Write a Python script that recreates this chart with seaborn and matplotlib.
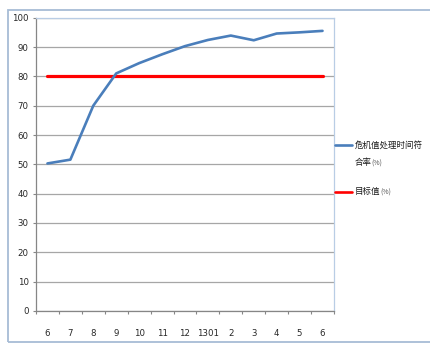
import matplotlib
matplotlib.use("Agg")
import matplotlib.pyplot as plt
from matplotlib.lines import Line2D
from matplotlib.patches import Rectangle
import numpy as np
import pandas as pd
import seaborn as sns

# Monthly compliance rate of critical-value handling time vs. target
months = ["6", "7", "8", "9", "10", "11", "12", "1301", "2", "3", "4", "5", "6"]
rate = [50.3, 51.6, 70.0, 81.0, 84.5, 87.5, 90.3, 92.4, 93.9, 92.3, 94.6, 95.0, 95.5]
target = [80] * len(months)
rate_label = "危机值处理时间符"
rate_label2 = "合率"
target_label = "目标值"
unit = "(%)"
yticks = list(range(0, 101, 10))

sns.set_theme(style="white")
plt.rcParams["font.family"] = ["DejaVu Sans"]

df = pd.DataFrame({"pos": np.arange(len(months)), "rate": rate, "target": target})

fig = plt.figure(figsize=(4.30, 3.46), dpi=100)
ax = fig.add_axes([0.0837, 0.1012, 0.693, 0.8477])

blue = "#4A7EBB"
red = "#FF0000"
sns.lineplot(data=df, x="pos", y="target", ax=ax, color=red, linewidth=2.3, zorder=3)
sns.lineplot(data=df, x="pos", y="rate", ax=ax, color=blue, linewidth=1.9, zorder=4)

ax.set_xlim(-0.5, len(months) - 0.5)
ax.set_ylim(0, 100)
ax.set_xlabel("")
ax.set_ylabel("")

# y axis: gridlines and outward ticks
ax.set_yticks(yticks)
ax.set_yticklabels([str(v) for v in yticks])
ax.yaxis.grid(True, color="#A6A6A6", linewidth=0.9)
ax.xaxis.grid(False)
ax.tick_params(axis="y", which="major", left=True, direction="out", length=2.2,
               width=0.8, color="#868686", pad=3, labelsize=6.2, labelcolor="#262626")

# x axis: category labels centred, tick marks between categories
ax.set_xticks(np.arange(len(months)))
ax.set_xticklabels(months)
ax.set_xticks(np.arange(-0.5, len(months)), minor=True)
ax.tick_params(axis="x", which="major", bottom=False, length=0, pad=13,
               labelsize=6.2, labelcolor="#262626")
ax.tick_params(axis="x", which="minor", bottom=True, direction="out", length=2.2,
               width=0.8, color="#868686")

for side in ("left", "bottom"):
    ax.spines[side].set_color("#868686")
    ax.spines[side].set_linewidth(0.9)
for side in ("top", "right"):
    ax.spines[side].set_color("#B9CDE5")
    ax.spines[side].set_linewidth(0.9)

# outer chart frame
fig.patches.append(Rectangle((0.0186, 0.0116), 1.2, 0.9594, transform=fig.transFigure,
                             fill=False, edgecolor="#A7BCD6", linewidth=1.3, zorder=0))

# legend on the right
cjk = ["Noto Sans CJK SC", "DejaVu Sans"]
fig.add_artist(Line2D([0.779, 0.819], [0.581, 0.581], transform=fig.transFigure,
                      color=blue, linewidth=1.9))
fig.text(0.825, 0.581, rate_label, fontsize=6.1, family=cjk, va="center",
         ha="left", color="#1a1a1a")
t2 = fig.text(0.825, 0.529, rate_label2, fontsize=6.1, family=cjk, va="center",
              ha="left", color="#1a1a1a")
ax.annotate(unit, xy=(1, 0.45), xycoords=t2, va="center", ha="left",
            fontsize=5, color="#555555", family=cjk, annotation_clip=False)

fig.add_artist(Line2D([0.779, 0.819], [0.446, 0.446], transform=fig.transFigure,
                      color=red, linewidth=1.9))
t3 = fig.text(0.825, 0.446, target_label, fontsize=6.1, family=cjk, va="center",
              ha="left", color="#1a1a1a")
ax.annotate(unit, xy=(1, 0.45), xycoords=t3, va="center", ha="left",
            fontsize=5, color="#555555", family=cjk, annotation_clip=False)

fig.savefig("out.png", dpi=100)
